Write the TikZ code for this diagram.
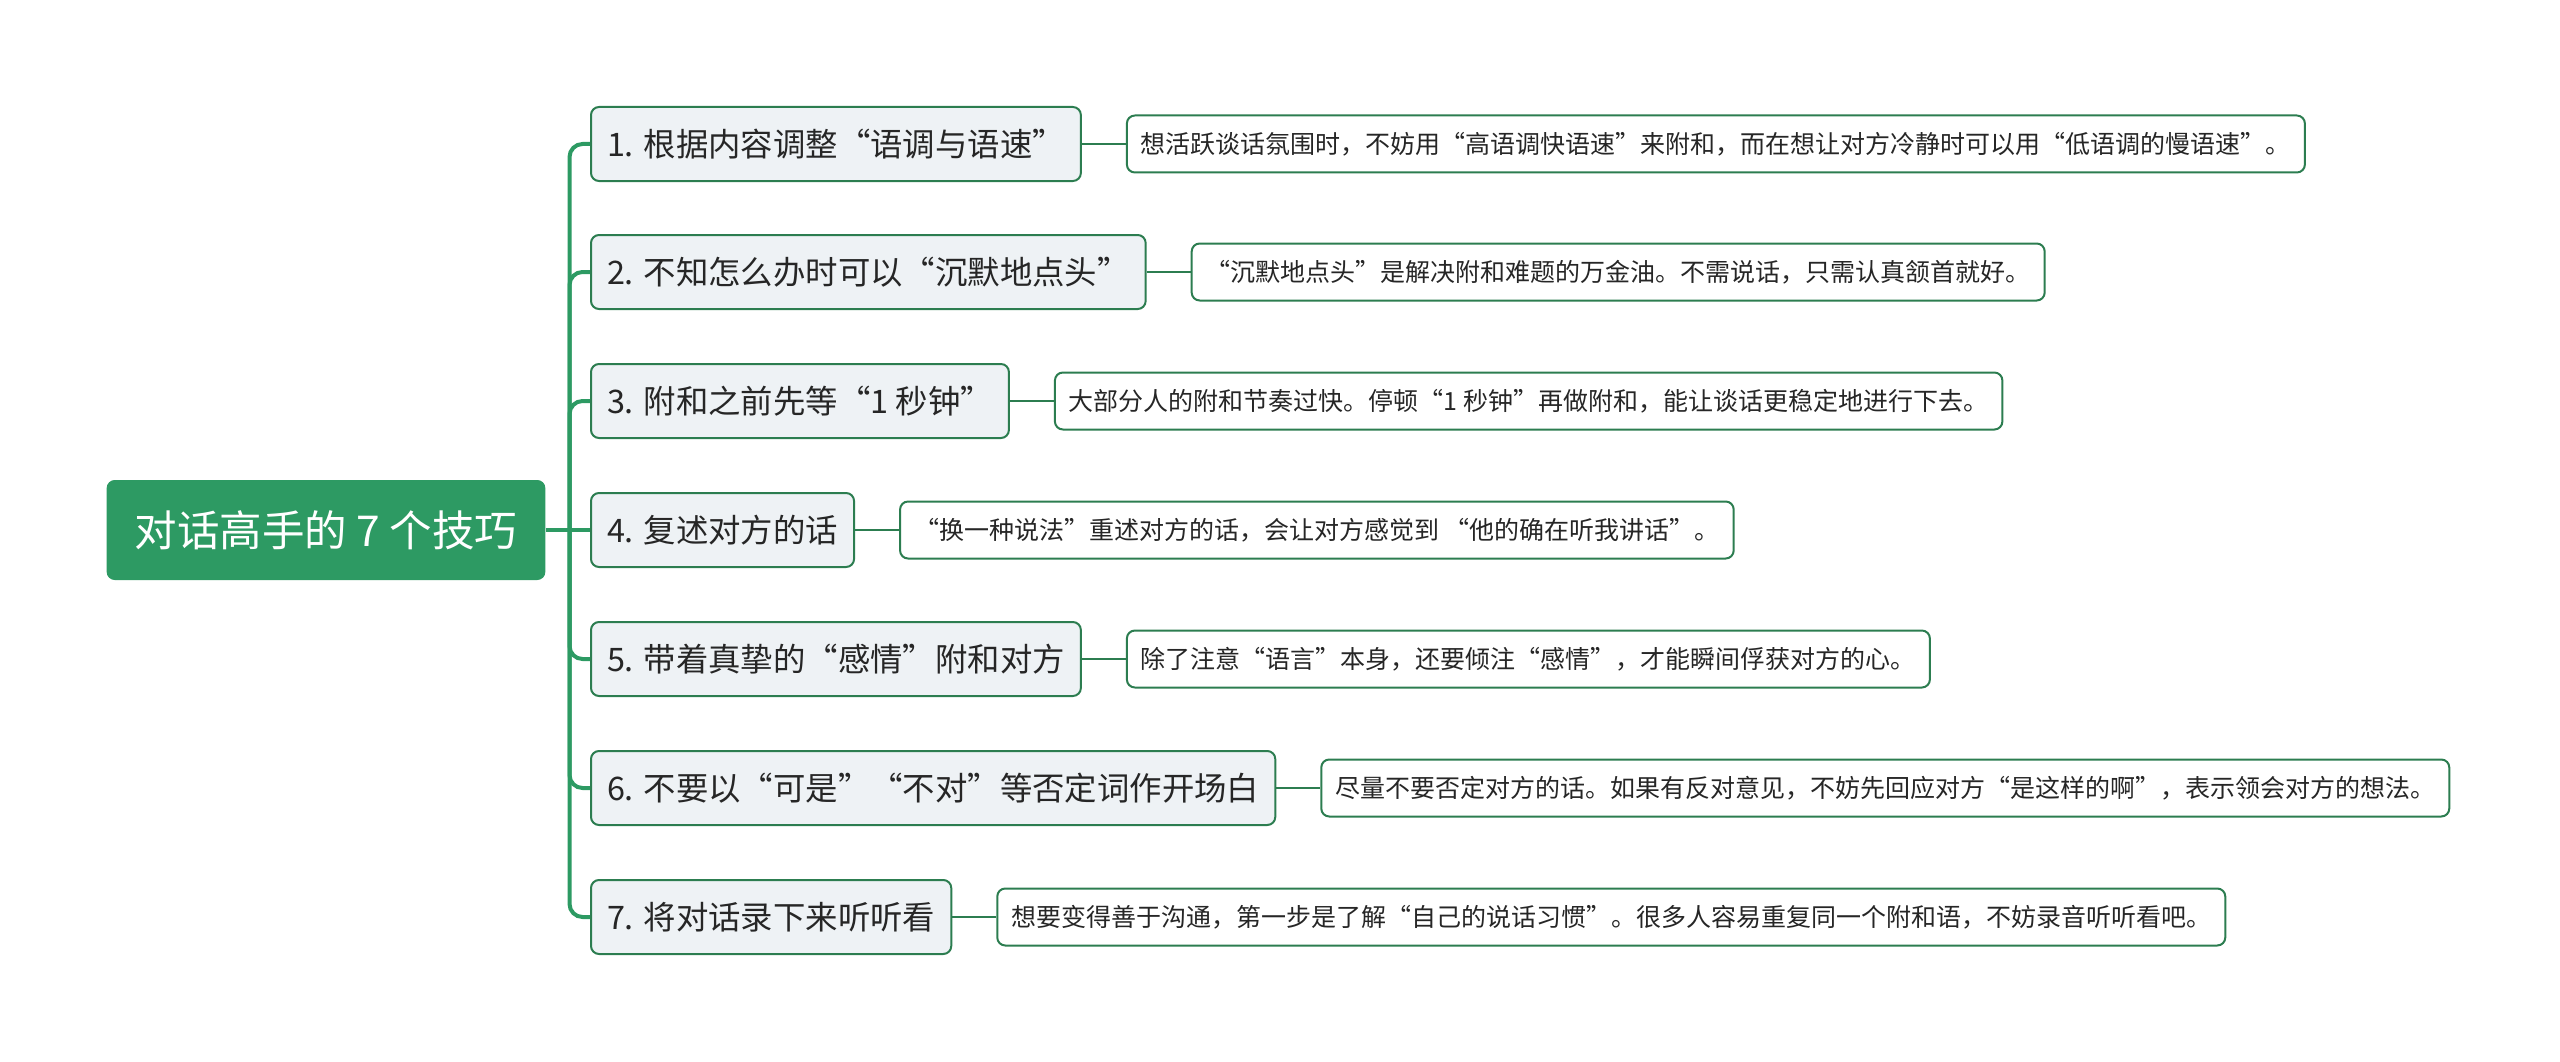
\documentclass[tikz,border=0pt]{standalone}
\usepackage{fontspec}
\setmainfont{Noto Sans CJK SC}
\usetikzlibrary{positioning}
\definecolor{rootgreen}{HTML}{2D9A63}
\definecolor{edgegreen}{HTML}{2C7D50}
\definecolor{tipfill}{HTML}{EEF2F5}
\definecolor{inktext}{HTML}{262626}
\begin{document}
\begin{tikzpicture}[x=1pt,y=-1pt,
  rootbox/.style={fill=rootgreen, text=white, rounded corners=8pt, minimum height=100pt, inner xsep=28pt, font=\fontsize{42.5}{50}\selectfont},
  tipbox/.style={draw=edgegreen, line width=2pt, fill=tipfill, text=inktext, rounded corners=8pt, minimum height=74pt, inner xsep=16pt, anchor=west, font=\fontsize{32.4}{38}\selectfont},
  notebox/.style={draw=edgegreen, line width=2pt, fill=white, text=inktext, rounded corners=8pt, minimum height=57pt, inner xsep=14pt, right=44pt of #1, font=\fontsize{25}{30}\selectfont},
  trunk/.style={draw=rootgreen, line width=4pt, rounded corners=13pt},
  twig/.style={draw=edgegreen, line width=2.6pt}]
\useasboundingbox (0,0) rectangle (2560,1062);
\node[rootbox] (root) at (326,530) {对话高手的 7 个技巧};
\coordinate[right=24pt of root] (hub);
% seven tips
\node[tipbox] (b1) at (590,144) {1. 根据内容调整“语调与语速”};
\node[tipbox] (b2) at (590,272) {2. 不知怎么办时可以“沉默地点头”};
\node[tipbox] (b3) at (590,401) {3. 附和之前先等“1 秒钟”};
\node[tipbox] (b4) at (590,530) {4. 复述对方的话};
\node[tipbox] (b5) at (590,659) {5. 带着真挚的“感情”附和对方};
\node[tipbox] (b6) at (590,788) {6. 不要以“可是”“不对”等否定词作开场白};
\node[tipbox] (b7) at (590,917) {7. 将对话录下来听听看};
% notes
\node[notebox=b1] (d1) {想活跃谈话氛围时，不妨用“高语调快语速”来附和，而在想让对方冷静时可以用“低语调的慢语速”。};
\node[notebox=b2] (d2) {“沉默地点头”是解决附和难题的万金油。不需说话，只需认真颔首就好。};
\node[notebox=b3] (d3) {大部分人的附和节奏过快。停顿“1 秒钟”再做附和，能让谈话更稳定地进行下去。};
\node[notebox=b4] (d4) {“换一种说法”重述对方的话，会让对方感觉到 “他的确在听我讲话”。};
\node[notebox=b5] (d5) {除了注意“语言”本身，还要倾注“感情”，才能瞬间俘获对方的心。};
\node[notebox=b6] (d6) {尽量不要否定对方的话。如果有反对意见，不妨先回应对方“是这样的啊”，表示领会对方的想法。};
\node[notebox=b7] (d7) {想要变得善于沟通，第一步是了解“自己的说话习惯”。很多人容易重复同一个附和语，不妨录音听听看吧。};
% connectors
\draw[trunk] (root.east) -- (b4.west);
\draw[trunk] (hub) |- (b1.west);
\draw[trunk] (hub) |- (b2.west);
\draw[trunk] (hub) |- (b3.west);
\draw[trunk] (hub) |- (b5.west);
\draw[trunk] (hub) |- (b6.west);
\draw[trunk] (hub) |- (b7.west);
\draw[twig] (b1.east) -- (d1.west);
\draw[twig] (b2.east) -- (d2.west);
\draw[twig] (b3.east) -- (d3.west);
\draw[twig] (b4.east) -- (d4.west);
\draw[twig] (b5.east) -- (d5.west);
\draw[twig] (b6.east) -- (d6.west);
\draw[twig] (b7.east) -- (d7.west);
\end{tikzpicture}
\end{document}
